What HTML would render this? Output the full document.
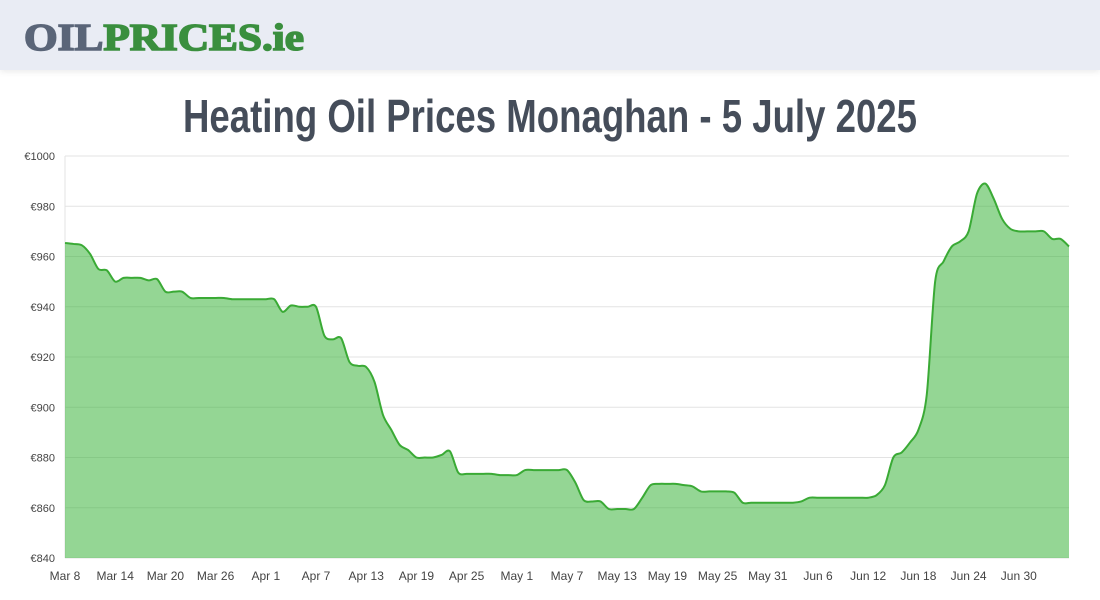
<!DOCTYPE html>
<html><head><meta charset="utf-8"><style>
body{margin:0;width:1100px;height:600px;background:#fff;overflow:hidden;font-family:"Liberation Sans",sans-serif}
#hdr{position:absolute;left:0;top:0;width:1100px;height:70px;background:#e9ecf4;box-shadow:0 2px 6px rgba(0,0,0,0.08)}
</style></head><body>
<div id="hdr"></div>
<svg width="1100" height="600" style="position:absolute;left:0;top:0">
<text x="24" y="50" font-family="Liberation Serif" font-weight="bold" font-size="38" textLength="280" lengthAdjust="spacingAndGlyphs" stroke-width="1.6"><tspan fill="#5a6578" stroke="#5a6578">OIL</tspan><tspan fill="#3a8f3e" stroke="#3a8f3e">PRICES.ie</tspan></text>
<text x="550" y="132" text-anchor="middle" font-family="Liberation Sans Narrow, Liberation Sans, sans-serif" font-weight="bold" font-size="46" fill="#454d5a" textLength="734" lengthAdjust="spacingAndGlyphs">Heating Oil Prices Monaghan - 5 July 2025</text>
<g id="grid"></g><g id="area"></g><g id="xl"></g>
</svg>
<script>
const yTicks=[840,860,880,900,920,940,960,980,1000];
const xTickLabels=["Mar 8","Mar 14","Mar 20","Mar 26","Apr 1","Apr 7","Apr 13","Apr 19","Apr 25","May 1","May 7","May 13","May 19","May 25","May 31","Jun 6","Jun 12","Jun 18","Jun 24","Jun 30"];
const prices=[965.4,965,964.5,961,955,954.5,950,951.5,951.5,951.5,950.5,951,946,946,946,943.5,943.5,943.5,943.5,943.5,943,943,943,943,943,943,938,940.5,940,940,940,928.5,927,927.5,918,916.5,916,910,897,891,885,883,880,880,880,881,882.5,874,873.5,873.5,873.5,873.5,873,873,873,875,875,875,875,875,875,870,863,862.5,862.5,859.5,859.5,859.5,859.5,864,869,869.5,869.5,869.5,869,868.5,866.5,866.5,866.5,866.5,866,862,862,862,862,862,862,862,862.5,864,864,864,864,864,864,864,864,865,869,880,882,886,891,905,950,958,964,966,970,985,989,983,975,971,970,970,970,970,967,967,964];
const L=65,R=1069,T=156,B=558,NS="http://www.w3.org/2000/svg";
const days=prices.length-1;
const xs=d=>L+d*(R-L)/days;
const ys=v=>B-(v-840)*(B-T)/160;
function mk(tag,attrs,parent){const e=document.createElementNS(NS,tag);for(const k in attrs)e.setAttribute(k,attrs[k]);parent.appendChild(e);return e;}
const grid=document.getElementById('grid');
yTicks.forEach(v=>{
 const ln=mk('line',{x1:L,x2:R,y1:ys(v),y2:ys(v),stroke:'#e3e3e3','stroke-width':1},grid);
 
 
 const t=mk('text',{x:L-10,y:ys(v)+4,'text-anchor':'end','font-size':11,fill:'#444'},grid);
 t.textContent='€'+v;
 
 
});
mk('line',{x1:L,x2:L,y1:T,y2:B,stroke:'#e3e3e3'},grid);
const xl=document.getElementById('xl');
xTickLabels.forEach((s,i)=>{
 const t=mk('text',{x:xs(i*6),y:580,'text-anchor':'middle','font-size':12,fill:'#444'},xl);
 t.textContent=s;
 
 
});
const pts=prices.map((v,i)=>[xs(i),ys(v)]);
let d='M'+pts[0][0]+','+pts[0][1];
for(let i=0;i<pts.length-1;i++){
 const p0=pts[Math.max(0,i-1)],p1=pts[i],p2=pts[i+1],p3=pts[Math.min(pts.length-1,i+2)];
 const k=0.15;
 d+=' C'+(p1[0]+(p2[0]-p0[0])*k)+','+(p1[1]+(p2[1]-p0[1])*k)+' '+(p2[0]-(p3[0]-p1[0])*k)+','+(p2[1]-(p3[1]-p1[1])*k)+' '+p2[0]+','+p2[1];
}
const area=document.getElementById('area');
const fill=mk('path',{d:d+' L'+R+','+B+' L'+L+','+B+' Z',fill:'rgba(60,180,60,0.55)'},area);


const line=mk('path',{d:d,fill:'none',stroke:'#3aaa35','stroke-width':2},area);


</script>
</body></html>
